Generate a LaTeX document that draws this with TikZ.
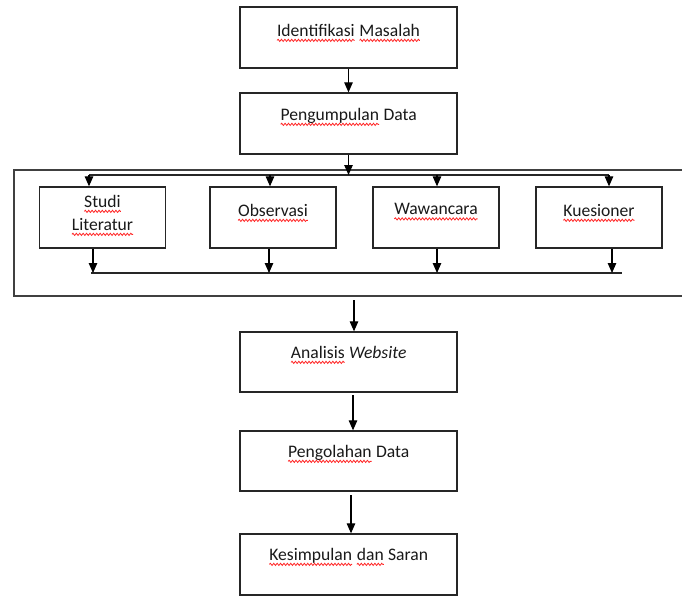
\documentclass[tikz,border=0pt]{standalone}
\usepackage{fontspec}
\setmainfont{Carlito}
\usetikzlibrary{arrows.meta,decorations.pathmorphing}
\newcommand{\sqw}[1]{\tikz[baseline=(w.base),x=1pt,y=1pt]{\node[inner sep=0pt,outer sep=0pt,draw=none](w){#1};\draw[red!85!white, line width=0.8pt, decorate, decoration={snake,amplitude=1.1pt,segment length=3.4pt}] ([yshift=-4pt]w.base west) -- ([yshift=-4pt]w.base east);}}
\begin{document}
\begin{tikzpicture}[x=1pt,y=-1pt,
  box/.style={draw=black!85, line width=1.3pt, minimum width=217pt, minimum height=61pt, inner sep=0pt},
  sbox/.style={draw=black!85, line width=1.3pt, minimum width=126pt, minimum height=61pt, inner sep=0pt},
  frame/.style={draw=black!75, line width=1.8pt},
  lbl/.style={font=\fontsize{17.6}{23}\selectfont, text=black!90, inner sep=0pt, align=center},
  arr/.style={-{Triangle[length=10pt,width=8.5pt]}, line width=1.1pt},
  ln/.style={line width=1.3pt, draw=black!85}]
\useasboundingbox (0,0) rectangle (682,597);
% main boxes
\node[box] (b1) at (348.5,37.5) {};
\node[box] (b2) at (348.5,123.5) {};
\node[lbl] (t1) at (348.5,33) {\sqw{Identifikasi} \sqw{Masalah}};
\node[lbl] (t2) at (348.5,117) {\sqw{Pengumpulan} Data};
\draw[arr] (b1.south) -- (b2.north);
% frame
\draw[frame] (684,170) -- (14,170) -- (14,296) -- (684,296);
% sub boxes
\node[sbox] (s1) at (102.5,217.5) {};
\node[sbox] (s2) at (273,217.5) {};
\node[sbox] (s3) at (436,217.5) {};
\node[sbox] (s4) at (599,217.5) {};
\node[lbl] (ts1) at (102.5,215.5) {\sqw{Studi}\\\sqw{Literatur}};
\node[lbl] (ts2) at (273,213) {\sqw{Observasi}};
\node[lbl] (ts3) at (436,212) {\sqw{Wawancara}};
\node[lbl] (ts4) at (599,213) {\sqw{Kuesioner}};
% branch
\coordinate (u1) at (89,175);
\coordinate (u2) at (270,175);
\coordinate (u3) at (437,175);
\coordinate (u4) at (609,175);
\draw[ln] (u1) -- (u4);
\draw[arr] (b2.south) -- (b2.south |- u1);
\draw[arr] (u1) -- (s1.north -| u1);
\draw[arr] (u2) -- (s2.north -| u2);
\draw[arr] (u3) -- (s3.north -| u3);
\draw[arr] (u4) -- (s4.north -| u4);
% collect
\coordinate (d1) at (93,273);
\coordinate (d2) at (269,273);
\coordinate (d3) at (437,273);
\coordinate (d4) at (612,273);
\coordinate (dend) at (622,273);
\draw[ln] (91,273) -- (dend);
\draw[arr] (s1.south -| d1) -- (d1);
\draw[arr] (s2.south -| d2) -- (d2);
\draw[arr] (s3.south -| d3) -- (d3);
\draw[arr] (s4.south -| d4) -- (d4);
% lower boxes
\node[box, minimum height=60pt] (a1) at (348.5,362) {};
\node[box, minimum height=60pt] (a2) at (348.5,461) {};
\node[box] (a3) at (348.5,564.5) {};
\node[lbl] (ta1) at (348.5,355) {\sqw{Analisis} \textit{Website}};
\node[lbl] (ta2) at (348.5,454) {\sqw{Pengolahan} Data};
\node[lbl] (ta3) at (348.5,557) {\sqw{Kesimpulan} \sqw{dan} Saran};
\coordinate (f) at (354,300);
\draw[arr] (f) -- (a1.north -| f);
\coordinate (g) at (353,395);
\draw[arr] (g) -- (a2.north -| g);
\coordinate (h) at (351,495);
\draw[arr] (h) -- (a3.north -| h);
\end{tikzpicture}
\end{document}
